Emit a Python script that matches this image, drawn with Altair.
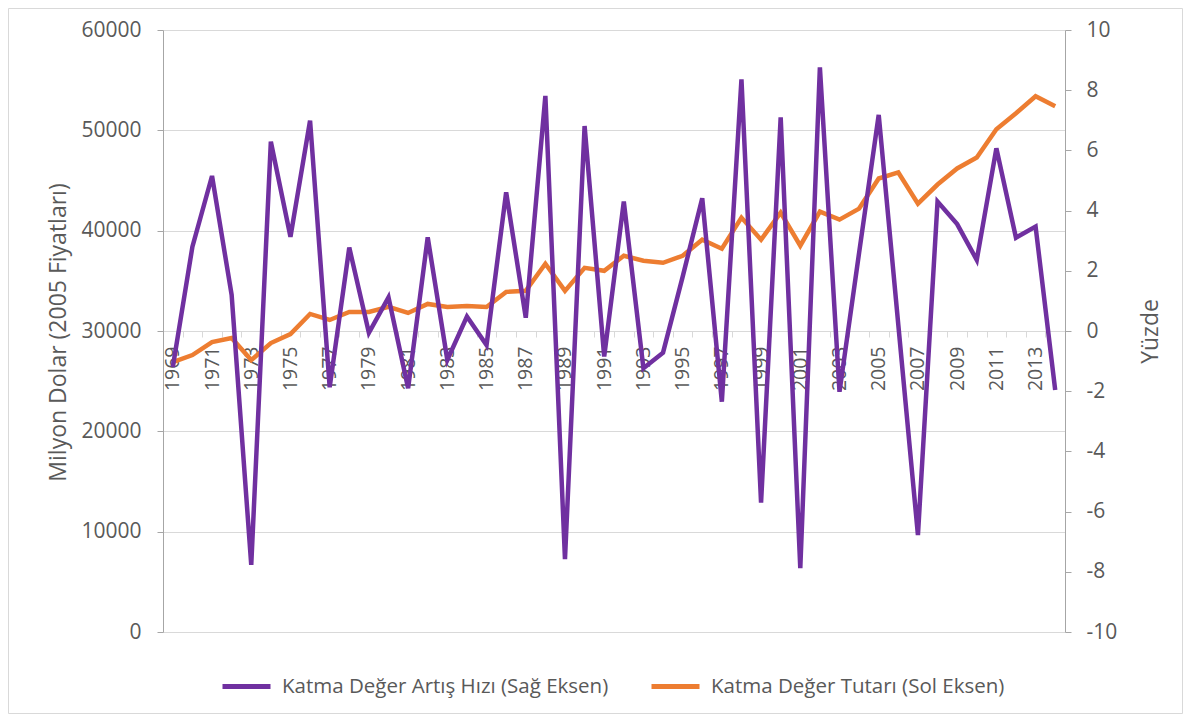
import altair as alt
import pandas as pd

years = list(range(1969, 2015))
growth = [-1.2, 2.8, 5.15, 1.2, -7.77, 6.29, 3.13, 6.99, -1.87, 2.77,
          -0.06, 1.12, -1.9, 3.11, -0.96, 0.48, -0.47, 4.61, 0.44, 7.81,
          -7.58, 6.81, -0.85, 4.3, -1.24, -0.72, 1.8, 4.41, -2.35, 8.36,
          -5.7, 7.1, -7.88, 8.76, -2.02, 2.6, 7.18, 0.2, -6.78, 4.3,
          3.55, 2.36, 6.07, 3.1, 3.47, -1.96]
amount = [26900, 27600, 28900, 29300, 27100, 28800, 29700, 31700, 31100, 31900,
          31900, 32400, 31800, 32700, 32400, 32500, 32400, 33900, 34000, 36700,
          34000, 36300, 36000, 37500, 37000, 36800, 37500, 39100, 38200, 41300,
          39100, 41800, 38500, 41900, 41100, 42200, 45200, 45800, 42700, 44600,
          46200, 47300, 50100, 51700, 53400, 52400]
s_growth = "Katma Değer Artış Hızı (Sağ Eksen)"
s_amount = "Katma Değer Tutarı (Sol Eksen)"
left_ticks = [0, 10000, 20000, 30000, 40000, 50000, 60000]
right_ticks = [-10, -8, -6, -4, -2, 0, 2, 4, 6, 8, 10]

df_g = pd.DataFrame({"year": years, "value": growth, "series": s_growth})
df_a = pd.DataFrame({"year": years, "value": amount, "series": s_amount})

FONT = "Open Sans"
TXT = "#595959"

x = alt.X(
    "year:O",
    bandPosition=0.5,
    scale=alt.Scale(type="band", paddingInner=0, paddingOuter=0),
    axis=alt.Axis(
        title=None, tickBand="extent", labelAngle=270, offset=-301,
        labelExpr="datum.value % 2 == 1 ? datum.label : ''",
        domainColor="#D9D9D9", tickColor="#D9D9D9", tickSize=6,
        labelPadding=9, labelFontSize=19.5, labelColor=TXT, labelFont=FONT,
        grid=False, labelOverlap=False,
    ),
)

color = alt.Color(
    "series:N",
    scale=alt.Scale(domain=[s_growth, s_amount], range=["#7030A0", "#ED7D31"]),
    legend=alt.Legend(
        title=None, orient="none", legendX=57, legendY=630, direction="horizontal",
        symbolType="stroke", symbolSize=2304, symbolStrokeWidth=5,
        labelFontSize=20.5, labelFont=FONT, labelColor=TXT, columnPadding=32,
        labelOffset=9, labelLimit=0,
    ),
)

amt = alt.Chart(df_a).mark_line(strokeWidth=4.5).encode(
    x=x,
    y=alt.Y(
        "value:Q",
        scale=alt.Scale(domain=[0, 60000], nice=False, zero=False),
        axis=alt.Axis(
            orient="left", values=left_ticks, title="Milyon Dolar (2005 Fiyatları)",
            grid=True, gridColor="#D9D9D9", gridWidth=1,
            domainColor="#A6A6A6", tickColor="#A6A6A6", tickSize=6,
            labelPadding=16, labelFontSize=21, labelColor=TXT, labelFont=FONT,
            labelFlush=False, format="d",
            titleFont=FONT, titleFontSize=23, titleFontWeight="normal", titleColor=TXT,
            titleAngle=270, titleX=-105, titleY=302, titleBaseline="middle",
            titleAlign="center",
        ),
    ),
    color=color,
)

gr = alt.Chart(df_g).mark_line(strokeWidth=4.5).encode(
    x=x,
    y=alt.Y(
        "value:Q",
        scale=alt.Scale(domain=[-10, 10], nice=False, zero=False),
        axis=alt.Axis(
            orient="right", values=right_ticks, title="Yüzde", grid=False,
            domainColor="#A6A6A6", tickColor="#A6A6A6", tickSize=6,
            labelPadding=15, labelFontSize=21, labelColor=TXT, labelFont=FONT,
            labelFlush=False, labelExpr="replace(datum.label, '\u2212', '-')",
            titleFont=FONT, titleFontSize=23, titleFontWeight="normal", titleColor=TXT,
            titleAngle=270, titleX=85, titleY=301, titleBaseline="middle",
            titleAlign="center",
        ),
    ),
    color=color,
)

border = alt.Chart(pd.DataFrame({"a": [0]})).mark_rect(
    fillOpacity=0, stroke="#D9D9D9", strokeWidth=1
).encode(
    x=alt.value(-154.5), x2=alt.value(902 + 117.5),
    y=alt.value(-21.5), y2=alt.value(602 + 81.5),
)

chart = (
    alt.layer(amt, gr, border)
    .resolve_scale(y="independent")
    .properties(
        width=902, height=602,
        autosize=alt.AutoSizeParams(type="none"),
        padding={"left": 155, "top": 22, "right": 118, "bottom": 82},
    )
    .configure_view(strokeWidth=0)
)

chart.save("out.html", embed_options={"renderer": "svg", "actions": False})
